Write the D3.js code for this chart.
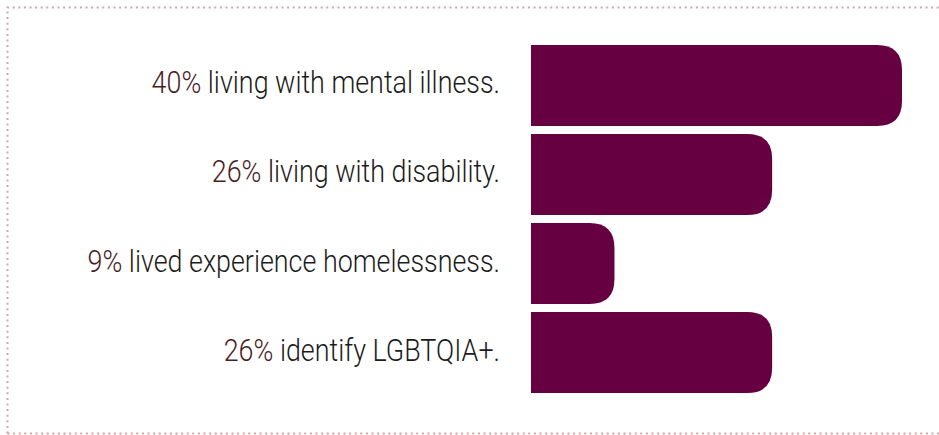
<!DOCTYPE html>
<html>
<head>
<meta charset="utf-8">
<script src="https://cdn.jsdelivr.net/npm/d3@7"></script>
<style>
  body { margin: 0; background: #fff; }
  svg { display: block; }
</style>
</head>
<body>
<div id="chart"></div>
<script>
// data
var percents = [40, 26, 9, 26];
var labels = ["living with mental illness.", "living with disability.",
              "lived experience homelessness.", "identify LGBTQIA+."];

var width = 939, height = 435;
var barColor = "#660040", pctColor = "#4a1c26", textColor = "#1c1c1c";
var radius = 25;

var svg = d3.select("#chart")
  .append("svg")
  .attr("width", width)
  .attr("height", height);

// dotted frame (left, top, bottom)
var frame = svg.append("g")
  .attr("stroke", "#d8a4a8")
  .attr("stroke-width", 2)
  .attr("stroke-dasharray", "2,3.6")
  .attr("fill", "none");
frame.append("path").attr("d", "M7.5,433.5 L7.5,7.5 L939,7.5");
frame.append("path").attr("d", "M7.5,433.5 L939,433.5");

var x = d3.scaleLinear()
  .domain([0, 40])
  .range([531, 902]);

var y = d3.scaleBand()
  .domain(d3.range(percents.length))
  .range([45, 393])
  .paddingInner(0.09)
  .paddingOuter(0);

function barPath(x0, x1, y0, h) {
  var r = Math.min(radius, (x1 - x0), h / 2);
  return "M" + x0 + "," + y0 +
    " L" + (x1 - r) + "," + y0 +
    " Q" + x1 + "," + y0 + " " + x1 + "," + (y0 + r) +
    " L" + x1 + "," + (y0 + h - r) +
    " Q" + x1 + "," + (y0 + h) + " " + (x1 - r) + "," + (y0 + h) +
    " L" + x0 + "," + (y0 + h) + " Z";
}

svg.append("g")
  .selectAll("path")
  .data(percents)
  .enter()
  .append("path")
  .attr("fill", barColor)
  .attr("d", function(d, i) {
    return barPath(x(0), x(d), y(i), y.bandwidth());
  });

// labels, squeezed horizontally to look like a condensed face
var sx = 0.84;
var lab = svg.append("g")
  .selectAll("g")
  .data(percents)
  .enter()
  .append("g")
  .attr("transform", function(d, i) {
    return "translate(500," + (y(i) + y.bandwidth() / 2 + 8) + ") scale(" + sx + ",1)";
  });

var t = lab.append("text")
  .attr("text-anchor", "end")
  .style("font-family", "Roboto, 'Liberation Sans', sans-serif")
  .style("font-size", "32px")
  .style("font-weight", 300);
t.append("tspan")
  .attr("fill", pctColor)
  .text(function(d) { return d + "% "; });
t.append("tspan")
  .attr("fill", textColor)
  .text(function(d, i) { return labels[i]; });
</script>
</body>
</html>
